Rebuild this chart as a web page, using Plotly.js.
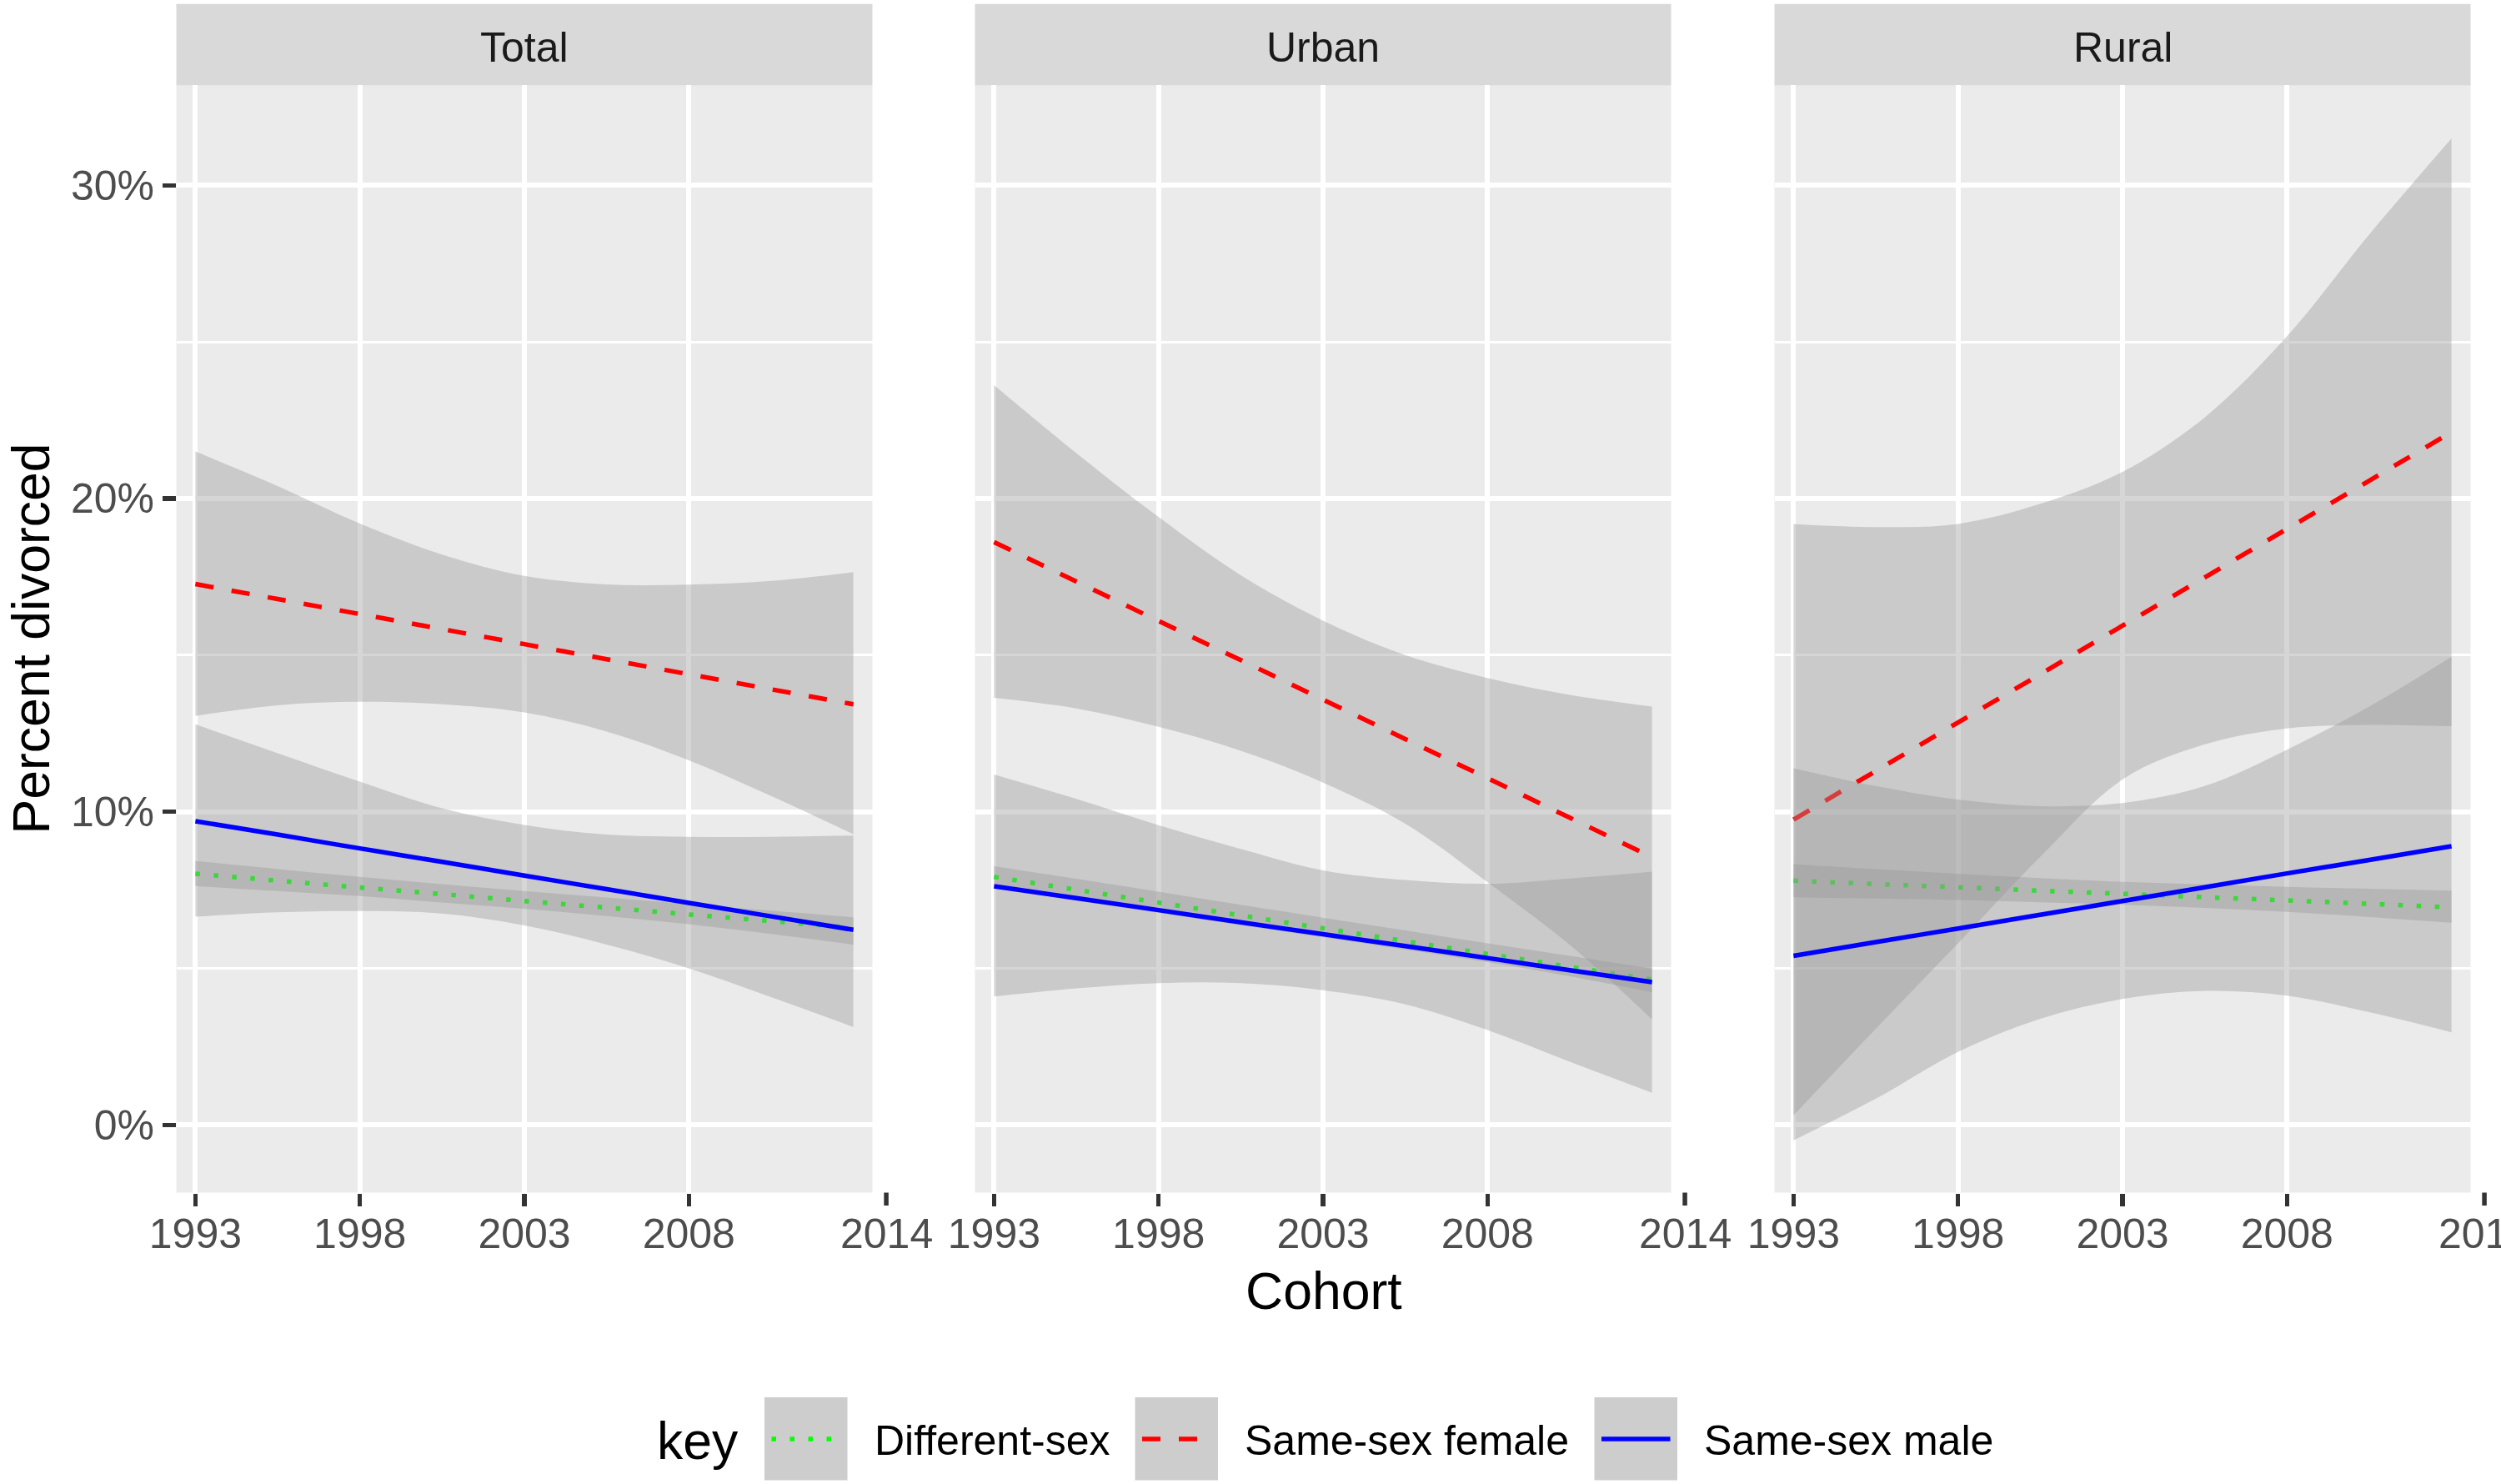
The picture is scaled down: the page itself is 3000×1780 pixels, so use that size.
<!DOCTYPE html>
<html><head><meta charset="utf-8">
<script src="https://cdn.plot.ly/plotly-3.0.1.min.js"></script>
<style>html,body{margin:0;padding:0;background:#fff}#chart{width:3000px;height:1780px}</style>
</head><body><div id="chart"></div>
<script>
// ---------- data ----------
const cohort = [1993, 1995.5, 1998, 2000.5, 2003, 2005.5, 2008, 2010.5, 2013];
const panelNames = ['Total', 'Urban', 'Rural'];
const seriesNames = ['Different-sex', 'Same-sex female', 'Same-sex male'];
const xTickVals = [1993, 1998, 2003, 2008];
const xTickText = ['1993', '1998', '2003', '2008'];
const xOuterTick = 2014;
const xOuterText = '2014';
const yTickVals = [0, 10, 20, 30];
const yTickText = ['0%', '10%', '20%', '30%'];
const yMinorVals = [5, 15, 25];

// Total
const totalDiffFit = [8.02, 7.80, 7.58, 7.37, 7.15, 6.94, 6.72, 6.51, 6.29];
const totalDiffLo  = [7.63, 7.47, 7.31, 7.10, 6.90, 6.67, 6.41, 6.10, 5.76];
const totalDiffHi  = [8.43, 8.17, 7.92, 7.69, 7.47, 7.26, 7.05, 6.84, 6.63];
const totalFemFit  = [17.27, 16.79, 16.31, 15.83, 15.35, 14.87, 14.39, 13.91, 13.43];
const totalFemLo   = [13.06, 13.40, 13.51, 13.43, 13.17, 12.56, 11.64, 10.50, 9.28];
const totalFemHi   = [21.50, 20.40, 19.20, 18.21, 17.53, 17.26, 17.25, 17.37, 17.65];
const totalMalFit  = [9.70, 9.27, 8.83, 8.40, 7.96, 7.53, 7.09, 6.66, 6.23];
const totalMalLo   = [6.65, 6.79, 6.83, 6.75, 6.37, 5.76, 5.00, 4.08, 3.13];
const totalMalHi   = [12.79, 11.87, 10.96, 10.11, 9.58, 9.27, 9.20, 9.20, 9.24];
// Urban
const urbanDiffFit = [7.92, 7.51, 7.10, 6.69, 6.28, 5.87, 5.46, 5.05, 4.64];
const urbanDiffLo  = [7.55, 7.16, 6.77, 6.38, 5.99, 5.60, 5.20, 4.75, 4.24];
const urbanDiffHi  = [8.26, 7.86, 7.45, 7.03, 6.62, 6.21, 5.80, 5.40, 4.99];
const urbanFemFit  = [18.61, 17.35, 16.09, 14.84, 13.58, 12.32, 11.07, 9.81, 8.55];
const urbanFemLo   = [13.64, 13.30, 12.71, 11.95, 10.93, 9.62, 7.75, 5.75, 3.37];
const urbanFemHi   = [23.62, 21.45, 19.41, 17.55, 16.10, 15.00, 14.27, 13.73, 13.36];
const urbanMalFit  = [7.62, 7.24, 6.86, 6.47, 6.09, 5.71, 5.33, 4.94, 4.56];
const urbanMalLo   = [4.10, 4.36, 4.53, 4.53, 4.30, 3.85, 3.03, 2.02, 1.03];
const urbanMalHi   = [11.19, 10.41, 9.57, 8.81, 8.13, 7.82, 7.70, 7.87, 8.09];
// Rural
const ruralDiffFit = [7.80, 7.69, 7.59, 7.48, 7.38, 7.27, 7.17, 7.06, 6.95];
const ruralDiffLo  = [7.27, 7.23, 7.18, 7.11, 7.03, 6.93, 6.80, 6.64, 6.46];
const ruralDiffHi  = [8.33, 8.17, 8.02, 7.88, 7.76, 7.68, 7.60, 7.54, 7.48];
const ruralFemFit  = [9.75, 11.30, 12.85, 14.39, 15.94, 17.48, 19.03, 20.57, 22.12];
const ruralFemLo   = [0.31, 3.07, 5.80, 8.56, 11.03, 12.15, 12.66, 12.77, 12.73];
const ruralFemHi   = [19.19, 19.09, 19.19, 19.83, 20.85, 22.59, 25.18, 28.43, 31.50];
const ruralMalFit  = [5.40, 5.84, 6.27, 6.71, 7.15, 7.59, 8.03, 8.46, 8.90];
const ruralMalLo   = [-0.49, 0.84, 2.33, 3.39, 4.02, 4.28, 4.13, 3.60, 2.96];
const ruralMalHi   = [11.39, 10.82, 10.39, 10.18, 10.28, 10.82, 11.98, 13.36, 14.95];

// ---------- styling / layout ----------
const W = 3000, H = 1780;
const FONT = 'Liberation Sans, Arial, Helvetica, sans-serif';
const seriesColors = ['#00ff00', '#ff0000', '#0000ff'];
const seriesDash = ['5.5px,16.5px', '22px,22px', 'solid'];
const bandFill = 'rgba(153,153,153,0.4)';
const LW = 5.5;
const panelLeft = [211.5, 1169.5, 2128.5];
const panelW = 835;
const panelTop = 102.4, panelBottom = 1430.5, stripTop = 4.7;
const xRange = [1992.42, 2013.58];
const yRange = [-2.16, 33.19];

const panelSeries = [
  [[totalDiffLo, totalDiffFit, totalDiffHi], [totalFemLo, totalFemFit, totalFemHi], [totalMalLo, totalMalFit, totalMalHi]],
  [[urbanDiffLo, urbanDiffFit, urbanDiffHi], [urbanFemLo, urbanFemFit, urbanFemHi], [urbanMalLo, urbanMalFit, urbanMalHi]],
  [[ruralDiffLo, ruralDiffFit, ruralDiffHi], [ruralFemLo, ruralFemFit, ruralFemHi], [ruralMalLo, ruralMalFit, ruralMalHi]]
];

const px = v => v / W;
const py = v => 1 - v / H;

const data = [];
panelSeries.forEach((series, p) => {
  const xa = 'x' + (p ? p + 1 : ''), ya = 'y' + (p ? p + 1 : '');
  series.forEach((s, k) => {
    const [lo, fit, hi] = s;
    data.push({x: cohort, y: lo, xaxis: xa, yaxis: ya, type: 'scatter', mode: 'lines',
      line: {width: 0, shape: 'spline'}, hoverinfo: 'skip', showlegend: false});
    data.push({x: cohort, y: hi, xaxis: xa, yaxis: ya, type: 'scatter', mode: 'lines',
      line: {width: 0, shape: 'spline'}, fill: 'tonexty', fillcolor: bandFill, hoverinfo: 'skip', showlegend: false});
    data.push({x: cohort, y: fit, xaxis: xa, yaxis: ya, type: 'scatter', mode: 'lines', name: seriesNames[k],
      line: {width: LW, color: seriesColors[k], dash: seriesDash[k], shape: 'spline'}, showlegend: false});
  });
});

const layout = {
  width: W, height: H, autosize: false,
  margin: {l: 0, r: 0, t: 0, b: 0, pad: 0},
  paper_bgcolor: '#ffffff', plot_bgcolor: '#ebebeb',
  font: {family: FONT, color: '#000000'},
  showlegend: false,
  shapes: [], annotations: []
};

panelNames.forEach((name, p) => {
  const sfx = p ? String(p + 1) : '';
  const l = panelLeft[p];
  layout['xaxis' + sfx] = {
    domain: [px(l), px(l + panelW)], range: xRange, anchor: 'y' + sfx,
    tickmode: 'array', tickvals: xTickVals, ticktext: xTickText,
    showgrid: true, gridcolor: '#ffffff', gridwidth: 6, zeroline: false, showline: false,
    ticks: 'outside', ticklen: 15.5, tickwidth: 5.5, tickcolor: '#333333', ticklabelstandoff: -10,
    tickfont: {family: FONT, size: 50, color: '#4d4d4d'}, fixedrange: true
  };
  layout['yaxis' + sfx] = {
    domain: [py(panelBottom), py(panelTop)], range: yRange, anchor: 'x' + sfx,
    tickmode: 'array', tickvals: yTickVals, ticktext: yTickText,
    minor: {tickmode: 'array', tickvals: yMinorVals, showgrid: true, gridcolor: '#ffffff', gridwidth: 3, ticks: ''},
    showgrid: true, gridcolor: '#ffffff', gridwidth: 6, zeroline: false, showline: false,
    ticks: p === 0 ? 'outside' : '', ticklen: 15.5, tickwidth: 5.5, tickcolor: '#333333',
    showticklabels: p === 0,
    tickfont: {family: FONT, size: 50, color: '#4d4d4d'}, fixedrange: true
  };
  // strip
  layout.shapes.push({type: 'rect', xref: 'paper', yref: 'paper',
    x0: px(l), x1: px(l + panelW), y0: py(panelTop), y1: py(stripTop),
    fillcolor: '#d9d9d9', line: {width: 0}, layer: 'below'});
  layout.annotations.push({xref: 'paper', yref: 'paper', x: px(l + panelW / 2), y: py(57),
    text: name, showarrow: false, xanchor: 'center', yanchor: 'middle',
    font: {family: FONT, size: 50, color: '#1a1a1a'}});
  // outer tick (2014) beyond panel edge
  const tx = l + (xOuterTick - xRange[0]) / (xRange[1] - xRange[0]) * panelW;
  layout.shapes.push({type: 'line', xref: 'paper', yref: 'paper',
    x0: px(tx), x1: px(tx), y0: py(panelBottom), y1: py(panelBottom + 15.5),
    line: {color: '#333333', width: 5.5}});
  layout.annotations.push({xref: 'paper', yref: 'paper', x: px(tx), y: py(1480),
    text: xOuterText, showarrow: false, xanchor: 'center', yanchor: 'middle',
    font: {family: FONT, size: 50, color: '#4d4d4d'}});
});

// axis titles
layout.annotations.push({xref: 'paper', yref: 'paper', x: px(37), y: py(766.5),
  text: 'Percent divorced', textangle: -90, showarrow: false, xanchor: 'center', yanchor: 'middle',
  font: {family: FONT, size: 62.5, color: '#000000'}});
layout.annotations.push({xref: 'paper', yref: 'paper', x: px(1587.5), y: py(1547.5),
  text: 'Cohort', showarrow: false, xanchor: 'center', yanchor: 'middle',
  font: {family: FONT, size: 62.5, color: '#000000'}});

// legend
const legendTitle = 'key';
const keyBoxLeft = [917, 1361.5, 1912.5];
const keyLabelLeft = [1048.5, 1493, 2044];
const keyTop = 1676, keySize = 99.5, keyMid = 1726;
layout.annotations.push({xref: 'paper', yref: 'paper', x: px(786), y: py(1727.6),
  text: legendTitle, showarrow: false, xanchor: 'left', yanchor: 'middle',
  font: {family: FONT, size: 62.5, color: '#000000'}});
seriesNames.forEach((nm, k) => {
  const bx = keyBoxLeft[k];
  layout.shapes.push({type: 'rect', xref: 'paper', yref: 'paper',
    x0: px(bx), x1: px(bx + keySize), y0: py(keyTop + keySize), y1: py(keyTop),
    fillcolor: '#cdcdcd', line: {width: 0}});
  layout.shapes.push({type: 'line', xref: 'paper', yref: 'paper',
    x0: px(bx + 8.5), x1: px(bx + 91), y0: py(keyMid), y1: py(keyMid),
    line: {color: seriesColors[k], width: LW, dash: seriesDash[k]}});
  layout.annotations.push({xref: 'paper', yref: 'paper', x: px(keyLabelLeft[k] - 2), y: py(1728),
    text: nm, showarrow: false, xanchor: 'left', yanchor: 'middle',
    font: {family: FONT, size: 50, color: '#000000'}});
});

Plotly.newPlot('chart', data, layout, {staticPlot: true, displayModeBar: false});
</script>
</body></html>
